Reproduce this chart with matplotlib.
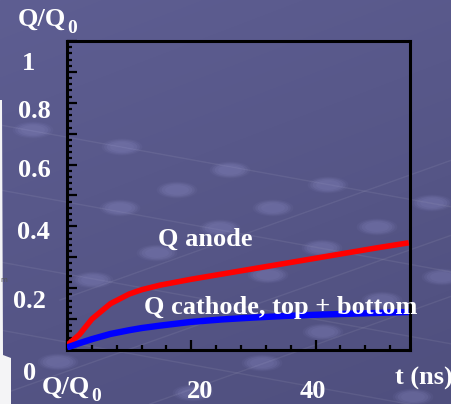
import numpy as np
import matplotlib
matplotlib.use("Agg")
import matplotlib.pyplot as plt
from matplotlib.patches import Ellipse, Polygon
from matplotlib.ticker import MultipleLocator

# Collected charge fraction vs drift time
t_ns = [0, 2, 4, 7, 10, 12, 15, 20, 25, 30, 35, 40, 45, 50, 55]
q_anode = [0.015, 0.050, 0.100, 0.150, 0.181, 0.195, 0.210, 0.229, 0.246,
           0.263, 0.280, 0.297, 0.314, 0.331, 0.347]
q_cathode = [0.008, 0.022, 0.035, 0.052, 0.064, 0.071, 0.079, 0.091, 0.099,
             0.105, 0.110, 0.114, 0.117, 0.120, 0.123]

y_labels = ["1", "0.8", "0.6", "0.4", "0.2", "0"]
x_labels = ["20", "40"]
y_title, y_title_sub = "Q/Q", "0"
x_title = "t (ns)"
curve_labels = ["Q anode", "Q cathode, top + bottom"]

W, H = 452, 404
fig = plt.figure(figsize=(W / 100, H / 100), dpi=100)

# slide background in pixel coordinates
bg = fig.add_axes([0, 0, 1, 1])
bg.set_xlim(0, W)
bg.set_ylim(H, 0)
bg.axis("off")
yy, xx = np.mgrid[0:H, 0:W]
f = (yy / H) * 0.7 + (xx / W) * 0.3
top = np.array([94, 94, 146]) / 255
bot = np.array([79, 79, 126]) / 255
img = top[None, None, :] * (1 - f[..., None]) + bot[None, None, :] * f[..., None]
bg.imshow(img, extent=(0, W, H, 0), aspect="auto", zorder=0)

# faint network lines
net_lines = [((0, 125), (452, 207)), ((0, 190), (452, 272)), ((0, 262), (452, 344)),
             ((0, 330), (452, 412)), ((60, 300), (452, 160)), ((0, 395), (452, 235)),
             ((150, 404), (452, 296))]
for (x0, y0), (x1, y1) in net_lines:
    bg.plot([x0, x1], [y0, y1], color="white", alpha=0.07, lw=1.0, zorder=1)

# soft round blobs
blobs = [(33, 130), (122, 147), (230, 170), (177, 190), (328, 185), (120, 208),
         (273, 208), (432, 203), (377, 227), (157, 253), (322, 248), (220, 228),
         (93, 280), (268, 275), (442, 277), (382, 300), (323, 332), (58, 362),
         (262, 363), (193, 393), (413, 397)]
for cx, cy in blobs:
    for k, a in [(1.2, 0.06), (1.05, 0.09), (0.9, 0.10), (0.7, 0.08)]:
        bg.add_patch(Ellipse((cx, cy), 34 * k, 14 * k, color=(0.62, 0.62, 0.86),
                             alpha=a, lw=0, zorder=1))

# light strip along the left edge
bg.add_patch(Polygon([(0, 100), (2, 100), (3, 355), (11, 358), (11, H), (0, H)],
                     closed=True, color="#f4f4f6", lw=0, zorder=2))
bg.text(0, 282, "m", color="#555555", fontsize=5, ha="left", va="baseline", zorder=3)

# plot frame
ax = fig.add_axes([67 / W, (H - 350) / H, 343 / W, 309 / H])
ax.patch.set_alpha(0)
ax.set_xlim(0, 55.2)
ax.set_ylim(0, 1)
for s in ax.spines.values():
    s.set_linewidth(2.2)
    s.set_color("black")
ax.xaxis.set_major_locator(MultipleLocator(20))
ax.xaxis.set_minor_locator(MultipleLocator(4))
ax.yaxis.set_major_locator(MultipleLocator(0.1))
ax.yaxis.set_minor_locator(MultipleLocator(0.02))
ax.tick_params(which="both", direction="in", top=False, right=False,
               labelbottom=False, labelleft=False, color="black")
ax.tick_params(which="major", length=7.5, width=1.6)
ax.tick_params(which="minor", length=3.5, width=1.6)

ax.plot(t_ns, q_anode, color="#ff0000", lw=4.0, solid_capstyle="butt", zorder=3)
ax.plot(t_ns, q_cathode, color="#0000ff", lw=4.6, solid_capstyle="butt", zorder=3)

# text overlays (pixel positions: left edge, baseline)
txt = dict(color="white", fontsize=19, fontweight="bold", family="Liberation Serif",
           ha="left", va="baseline", transform=bg.transData)
y_label_pos = [(22, 70), (18, 118), (18, 177), (17, 239), (13, 308), (23, 380)]
for s, (px, py) in zip(y_labels, y_label_pos):
    fig.text(px, py, s, **txt)
x_label_pos = [(187, 398), (300, 398)]
for s, (px, py) in zip(x_labels, x_label_pos):
    fig.text(px, py, s, **txt)
fig.text(395, 385, x_title, **txt)
fig.text(158, 246, curve_labels[0], **txt)
fig.text(144, 314, curve_labels[1], **txt)

# axis title with subscript, placed twice
renderer = fig.canvas.get_renderer()
sub = dict(txt, fontsize=14)
for px, py in [(18, 26), (42, 394)]:
    t = fig.text(px, py, y_title, **txt)
    bb = t.get_window_extent(renderer)
    x_end = bg.transData.inverted().transform((bb.x1, bb.y0))[0]
    fig.text(x_end + 0.5, py + 7, y_title_sub, **sub)

fig.savefig("out.png", dpi=100)
